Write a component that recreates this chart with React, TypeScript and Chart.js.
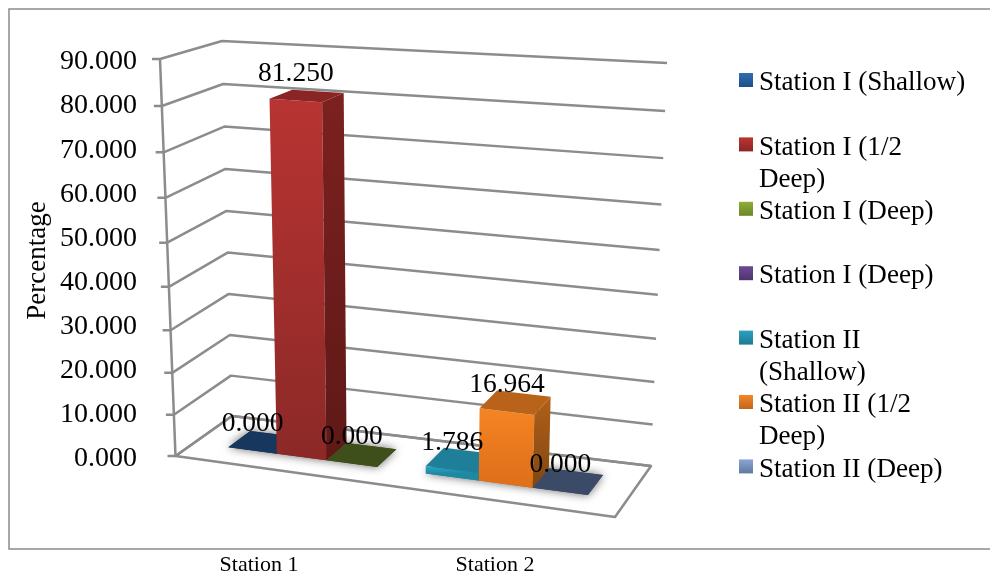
import React, { useEffect, useRef } from "react";
import { Chart, registerables } from "chart.js";

Chart.register(...registerables);

const categories = ["Station 1", "Station 2"];
const seriesNames = [
  "Station I (Shallow)",
  "Station I (1/2 Deep)",
  "Station I (Deep)",
  "Station I (Deep)",
  "Station II (Shallow)",
  "Station II (1/2 Deep)",
  "Station II (Deep)",
];
const stationIShallow = [0, null];
const stationIHalfDeep = [81.25, null];
const stationIDeep = [0, null];
const stationIDeepRepeat = [null, null];
const stationIIShallow = [null, 1.786];
const stationIIHalfDeep = [null, 16.964];
const stationIIDeep = [null, 0];
const seriesValues = [
  stationIShallow,
  stationIHalfDeep,
  stationIDeep,
  stationIDeepRepeat,
  stationIIShallow,
  stationIIHalfDeep,
  stationIIDeep,
];

const legendTop = ["#2f6db3", "#bb3431", "#8fae35", "#6f4a95", "#2ba0c0", "#f6852a", "#8aa5d6"];
const legendBottom = ["#1f4f88", "#8a2623", "#6b8529", "#4f346d", "#1e7a92", "#c0651c", "#5f7a9e"];
const frontTop = ["#2a5e99", "#b83432", "#7d9a30", "#604080", "#28a6c6", "#f58423", "#7b93bd"];
const frontBottom = ["#1d4470", "#8c2927", "#5a7024", "#45305c", "#1f89a4", "#e0701a", "#5b6f8f"];
const sideTop = ["#1a3c64", "#7c211f", "#4e6120", "#3a2750", "#156a80", "#b0601a", "#46587a"];
const sideBottom = ["#14304f", "#5e1917", "#3d4d18", "#2e1f40", "#125a6c", "#80470f", "#3a4a66"];
const topFace = ["#17375e", "#8a2523", "#3f4f1b", "#3a2750", "#1f7f99", "#b9621a", "#3b4a66"];

const GRID = "#8c8c8c";
const FONT = "'Liberation Serif'";

type P = [number, number];
// Projection box of the 3D plot: front / back, left / right, floor / ceiling.
const BOX = {
  fl0: [175.5, 456] as P,
  fl1: [160, 59] as P,
  fr0: [615, 517] as P,
  fr1: [630, 87] as P,
  bl0: [232, 416] as P,
  bl1: [222, 41] as P,
  br0: [651, 466] as P,
  br1: [667, 63] as P,
};
const BAR_FRONT = 0.33;
const BAR_BACK = 0.73;
// perspective foreshortening of the flat scales
const warpU = (x: number) => 0.0274 + 0.8625 * x + 0.0807 * x * x;
const bow = (u: number, w: number) => {
  const front = 0.074 + (0.1 - 0.074) * u;
  const back = 0.035 + (0.08 - 0.035) * u;
  return front + (back - front) * w;
};

const mix = (a: P, b: P, t: number): P => [a[0] + (b[0] - a[0]) * t, a[1] + (b[1] - a[1]) * t];
function project(u: number, value: number, w: number): P {
  const v = value - bow(u, w) * value * (1 - value);
  const fl = mix(BOX.fl0, BOX.fl1, v);
  const fr = mix(BOX.fr0, BOX.fr1, v);
  const bl = mix(BOX.bl0, BOX.bl1, v);
  const br = mix(BOX.br0, BOX.br1, v);
  return mix(mix(fl, fr, u), mix(bl, br, u), w);
}

function poly(ctx: CanvasRenderingContext2D, pts: P[]) {
  ctx.beginPath();
  pts.forEach((p, i) => (i ? ctx.lineTo(p[0], p[1]) : ctx.moveTo(p[0], p[1])));
  ctx.closePath();
}

function wrap(ctx: CanvasRenderingContext2D, text: string, maxWidth: number) {
  const lines: string[] = [];
  let cur = "";
  for (const word of text.split(" ")) {
    const next = cur ? cur + " " + word : word;
    if (ctx.measureText(next).width > maxWidth && cur) {
      lines.push(cur);
      cur = word;
    } else cur = next;
  }
  lines.push(cur);
  return lines;
}

const scene3d = {
  id: "scene3d",
  beforeDatasetsDraw(chart: any) {
    const ctx: CanvasRenderingContext2D = chart.ctx;
    const area = chart.chartArea;
    const yScale = chart.scales.y;
    const uOf = (px: number) => warpU((px - area.left) / (area.right - area.left));
    const vOf = (py: number) => (area.bottom - py) / (area.bottom - area.top);

    ctx.save();
    // outer frame
    ctx.strokeStyle = "#8a8a8a";
    ctx.lineWidth = 1.5;
    ctx.strokeRect(9, 9, 990, 540);

    // walls and gridlines
    ctx.strokeStyle = GRID;
    ctx.lineWidth = 2.5;
    ctx.lineJoin = "round";
    yScale.ticks.forEach((t: any) => {
      const v = vOf(yScale.getPixelForValue(t.value));
      const a = project(0, v, 0);
      const b = project(0, v, 1);
      const c = project(1, v, 1);
      ctx.beginPath();
      ctx.moveTo(a[0] - 8, a[1]);
      ctx.lineTo(a[0], a[1]);
      ctx.lineTo(b[0], b[1]);
      ctx.lineTo(c[0], c[1]);
      ctx.stroke();
    });
    const axisA = project(0, 0, 0);
    const axisB = project(0, 1, 0);
    ctx.beginPath();
    ctx.moveTo(axisA[0], axisA[1]);
    ctx.lineTo(axisB[0], axisB[1]);
    ctx.stroke();
    poly(ctx, [project(0, 0, 0), project(1, 0, 0), project(1, 0, 1), project(0, 0, 1)]);
    ctx.stroke();

    const bars: any[] = [];
    chart.data.datasets.forEach((ds: any, i: number) => {
      chart.getDatasetMeta(i).data.forEach((el: any, j: number) => {
        if (ds.data[j] === null) return;
        const half = el.width / 2;
        bars.push({
          i,
          value: ds.data[j],
          u0: uOf(el.x - half),
          u1: uOf(el.x + half),
          v: vOf(el.y),
        });
      });
    });

    // soft floor shadows
    bars.forEach((b) => {
      ctx.save();
      ctx.shadowColor = "rgba(0,0,0,0.6)";
      ctx.shadowBlur = 10;
      ctx.fillStyle = topFace[b.i];
      poly(ctx, [
        project(b.u0, 0, BAR_FRONT),
        project(b.u1, 0, BAR_FRONT),
        project(b.u1, 0, BAR_BACK),
        project(b.u0, 0, BAR_BACK),
      ]);
      ctx.fill();
      ctx.restore();
    });

    // bars, left to right so each one hides the side of the previous one
    bars.forEach((b) => {
      const f0 = project(b.u0, 0, BAR_FRONT);
      const f1 = project(b.u1, 0, BAR_FRONT);
      const t0 = project(b.u0, b.v, BAR_FRONT);
      const t1 = project(b.u1, b.v, BAR_FRONT);
      const k0 = project(b.u1, 0, BAR_BACK);
      const k1 = project(b.u1, b.v, BAR_BACK);
      const k2 = project(b.u0, b.v, BAR_BACK);
      if (b.v > 0) {
        const g = ctx.createLinearGradient(0, t0[1], 0, f0[1]);
        g.addColorStop(0, frontTop[b.i]);
        g.addColorStop(1, frontBottom[b.i]);
        ctx.fillStyle = g;
        poly(ctx, [t0, t1, f1, f0]);
        ctx.fill();
        const s = ctx.createLinearGradient(0, k1[1], 0, f1[1]);
        s.addColorStop(0, sideTop[b.i]);
        s.addColorStop(1, sideBottom[b.i]);
        ctx.fillStyle = s;
        poly(ctx, [t1, k1, k0, f1]);
        ctx.fill();
      }
      ctx.fillStyle = topFace[b.i];
      poly(ctx, [t0, t1, k1, k2]);
      ctx.fill();
    });

    // value labels
    ctx.fillStyle = "#000";
    ctx.font = `27.5px ${FONT}`;
    ctx.textAlign = "center";
    ctx.textBaseline = "middle";
    bars.forEach((b) => {
      const p = project((b.u0 + b.u1) / 2, b.v, BAR_FRONT);
      ctx.fillText(b.value.toFixed(3), p[0], p[1] - 27);
    });

    // legend
    ctx.font = `27.1px ${FONT}`;
    ctx.textAlign = "left";
    seriesNames.forEach((name, i) => {
      const cy = 80 + i * 64.4;
      const g = ctx.createLinearGradient(0, cy - 7, 0, cy + 7);
      g.addColorStop(0, legendTop[i]);
      g.addColorStop(1, legendBottom[i]);
      ctx.fillStyle = g;
      ctx.fillRect(739, cy - 7, 14, 14);
      ctx.fillStyle = "#000";
      wrap(ctx, name, 210).forEach((line, k) => {
        ctx.fillText(line, 759, cy + 3 + k * 32);
      });
    });
    ctx.restore();
    return false;
  },
};

export default function App() {
  const ref = useRef<HTMLCanvasElement>(null);
  useEffect(() => {
    const chart = new Chart(ref.current as HTMLCanvasElement, {
      type: "bar",
      data: {
        labels: categories,
        datasets: seriesNames.map((name, i) => ({
          label: name,
          data: seriesValues[i],
          backgroundColor: frontTop[i],
          skipNull: true,
          categoryPercentage: 0.762,
          barPercentage: 1,
        })),
      } as any,
      options: {
        responsive: false,
        animation: false,
        devicePixelRatio: 1,
        layout: { padding: { left: 22, top: 62, right: 377, bottom: 0 } },
        plugins: { legend: { display: false }, tooltip: { enabled: false }, title: { display: false } },
        scales: {
          x: {
            grid: { display: false, drawTicks: false },
            border: { display: false },
            ticks: { color: "#000", padding: 93, font: { family: FONT, size: 22 }, maxRotation: 0 },
            afterFit: (s: any) => {
              s.height = 114;
            },
          },
          y: {
            min: 0,
            max: 90,
            grid: { display: false, drawTicks: false },
            border: { display: false },
            ticks: {
              stepSize: 10,
              color: "#000",
              padding: 4,
              font: { family: FONT, size: 28 },
              callback: (v: any) => Number(v).toFixed(3),
            },
            title: {
              display: true,
              text: "Percentage",
              color: "#000",
              padding: 0,
              font: { family: FONT, size: 27 },
            },
            afterFit: (s: any) => {
              s.width = 119;
            },
          },
        },
      } as any,
      plugins: [scene3d as any],
    });
    return () => chart.destroy();
  }, []);
  return (
    <div style={{ position: "absolute", left: 0, top: 0, width: 990, height: 573, background: "#fff" }}>
      <canvas ref={ref} width={990} height={573} style={{ display: "block" }} />
    </div>
  );
}
